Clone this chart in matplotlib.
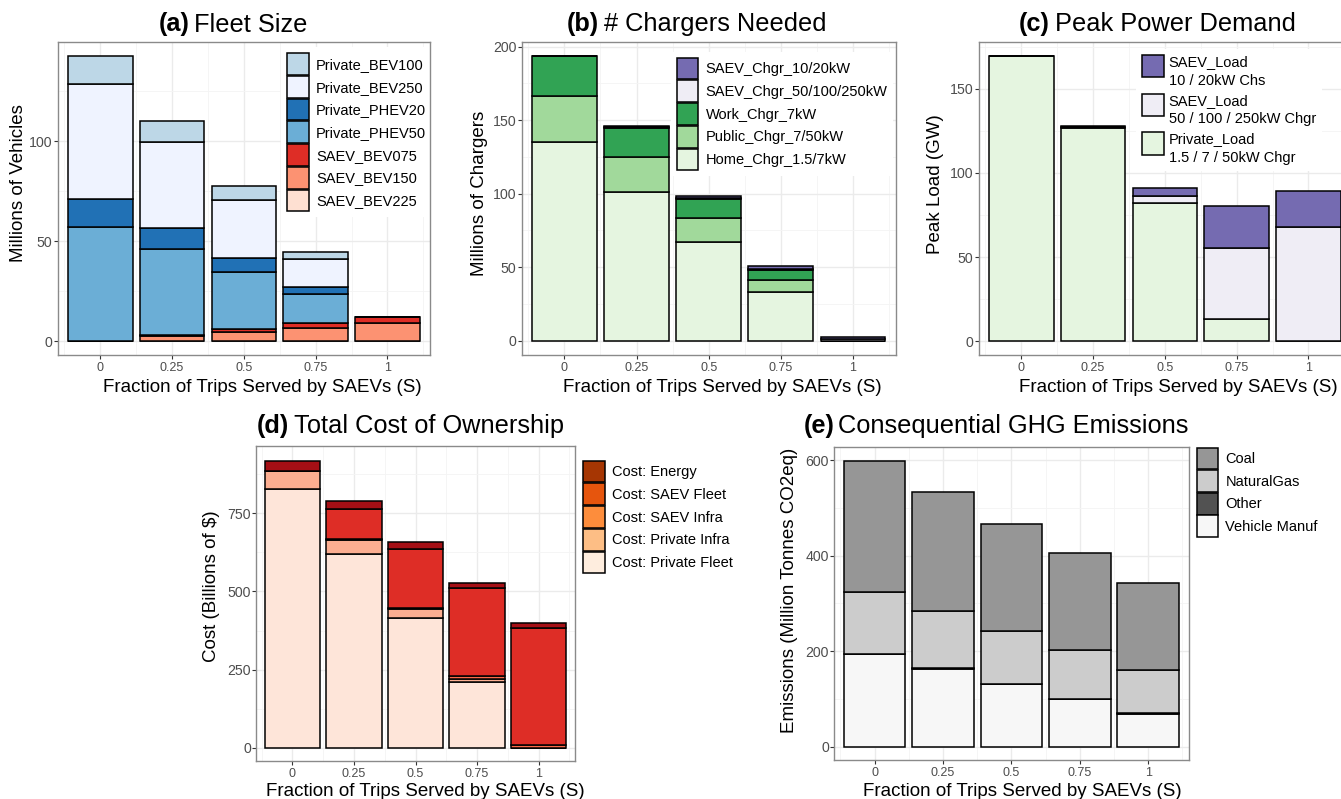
import matplotlib
matplotlib.use('Agg')
import matplotlib.pyplot as plt
from matplotlib.patches import Patch
import numpy as np

plt.rcParams['font.family'] = ['Liberation Sans', 'DejaVu Sans']

W, H = 1341, 799
fig = plt.figure(figsize=(W / 100, H / 100), dpi=100)

# ---------------- data ----------------
S = [0, 0.25, 0.5, 0.75, 1]
S_labels = ['0', '0.25', '0.5', '0.75', '1']

# (a) Fleet size (millions of vehicles), legend order (top of stack first)
fleet_cats = ['Private_BEV100', 'Private_BEV250', 'Private_PHEV20', 'Private_PHEV50',
              'SAEV_BEV075', 'SAEV_BEV150', 'SAEV_BEV225']
fleet_colors = ['#BDD7E7', '#EFF3FF', '#2171B5', '#6BAED6', '#DE2D26', '#FC9272', '#FEE0D2']
private_bev100 = [14.2, 10.7, 7.0, 3.5, 0]
private_bev250 = [57.3, 43.0, 28.8, 14.2, 0]
private_phev20 = [14.4, 10.5, 7.2, 3.7, 0]
private_phev50 = [56.8, 42.8, 28.5, 14.5, 0]
saev_bev075 = [0, 0.6, 1.5, 2.5, 3.2]
saev_bev150 = [0, 2.4, 4.3, 6.3, 8.8]
saev_bev225 = [0, 0, 0, 0, 0]
fleet_vals = [private_bev100, private_bev250, private_phev20, private_phev50,
              saev_bev075, saev_bev150, saev_bev225]

# (b) Chargers needed (millions)
chgr_cats = ['SAEV_Chgr_10/20kW', 'SAEV_Chgr_50/100/250kW', 'Work_Chgr_7kW',
             'Public_Chgr_7/50kW', 'Home_Chgr_1.5/7kW']
chgr_colors = ['#756BB1', '#EFEDF5', '#31A354', '#A1D99B', '#E5F5E0']
saev_chgr_10_20 = [0, 0.9, 1.2, 1.8, 1.4]
saev_chgr_50_250 = [0, 0.5, 0.8, 1.0, 0.9]
work_chgr = [27.2, 20.0, 13.2, 6.8, 0]
public_chgr = [31.8, 23.8, 15.9, 8.0, 0]
home_chgr = [134.9, 101.1, 67.3, 33.3, 0]
chgr_vals = [saev_chgr_10_20, saev_chgr_50_250, work_chgr, public_chgr, home_chgr]

# (c) Peak load (GW)
load_cats = ['SAEV_Load\n10 / 20kW Chs', 'SAEV_Load\n50 / 100 / 250kW Chgr',
             'Private_Load\n1.5 / 7 / 50kW Chgr']
load_colors = ['#756BB1', '#EFEDF5', '#E5F5E0']
saev_load_10_20 = [0, 0.7, 4.3, 24.7, 21.4]
saev_load_50_250 = [0, 0.4, 4.6, 42.1, 68.1]
private_load = [169.4, 126.9, 81.9, 13.3, 0]
load_vals = [saev_load_10_20, saev_load_50_250, private_load]

# (d) Total cost of ownership (billions of $)
cost_cats = ['Cost: Energy', 'Cost: SAEV Fleet', 'Cost: SAEV Infra',
             'Cost: Private Infra', 'Cost: Private Fleet']
cost_bar_colors = ['#A50F15', '#DE2D26', '#FB6A4A', '#FCAE91', '#FEE5D9']
cost_legend_colors = ['#A63603', '#E6550D', '#FD8D3C', '#FDBE85', '#FEEDDE']
cost_energy = [32, 26, 20.4, 16, 17.1]
cost_saev_fleet = [0, 97, 189.6, 283, 375]
cost_saev_infra = [0, 4, 4.5, 8, 8]
cost_private_infra = [60, 44, 29.5, 11, 0]
cost_private_fleet = [827, 620, 413.6, 209, 0]
cost_vals = [cost_energy, cost_saev_fleet, cost_saev_infra, cost_private_infra, cost_private_fleet]

# (e) GHG emissions (million tonnes CO2eq)
ghg_cats = ['Coal', 'NaturalGas', 'Other', 'Vehicle Manuf']
ghg_colors = ['#969696', '#CCCCCC', '#525252', '#F7F7F7']
ghg_coal = [274.2, 249, 225.3, 203.1, 183.5]
ghg_natgas = [128.7, 119.7, 109.2, 100.8, 90.3]
ghg_other = [1, 1, 1, 1, 1.5]
ghg_manuf = [194, 163.3, 131.2, 99.8, 68]
ghg_vals = [ghg_coal, ghg_natgas, ghg_other, ghg_manuf]


# ---------------- helpers ----------------
def px_axes(l, t, r, b):
    return fig.add_axes([l / W, 1 - b / H, (r - l) / W, (b - t) / H])


def style_axes(ax, ylim, yticks):
    xlim = (-0.148, 1.148)
    ax.set_xticks(S)
    ax.set_xticklabels(S_labels)
    ax.set_yticks(yticks)
    ax.set_yticklabels([str(v) for v in yticks])
    step = yticks[1] - yticks[0]
    minor_y = [v + step / 2 for v in yticks if v + step / 2 < ylim[1]]
    ax.set_yticks(minor_y, minor=True)
    ax.set_xticks([v + 0.125 for v in [-0.25] + S if xlim[0] < v + 0.125 < xlim[1]], minor=True)
    ax.set_xlim(*xlim)
    ax.set_ylim(*ylim)
    ax.grid(True, which='major', color='#EBEBEB', lw=1.0, zorder=0)
    ax.grid(True, which='minor', color='#F4F4F4', lw=0.6, zorder=0)
    ax.set_axisbelow(True)
    ax.tick_params(which='minor', length=0)
    ax.tick_params(which='major', direction='out', length=2.75, width=0.8,
                   color='#333333', labelcolor='#4D4D4D')
    ax.tick_params(axis='y', labelsize=10.2, pad=1)
    ax.tick_params(axis='x', labelsize=9, pad=2)
    for sp in ax.spines.values():
        sp.set_color('#8A8A8A')
        sp.set_linewidth(1.0)
        sp.set_zorder(6)


def stacked(ax, vals_top_first, colors):
    bottom = np.zeros(len(S))
    for vals, col in zip(vals_top_first[::-1], colors[::-1]):
        ax.bar(S, vals, width=0.225, bottom=bottom, color=col,
               edgecolor='black', linewidth=1.1, zorder=2)
        bottom = bottom + np.array(vals)


LFS = 10.5


def add_legend(ax, cats, colors, key_left, key_top, keyh=21.7, spacing=0.1,
               textpad=0.5, top_align=False, linesp=None):
    fs_px = LFS * 100 / 72
    hh = (keyh / fs_px - 0.245) / 0.65
    handles = [Patch(facecolor=c, edgecolor='black', linewidth=1.1) for c in colors]
    bp = 0.4
    pad_px = bp * fs_px
    leg = ax.legend(handles, cats, loc='upper left',
                    bbox_to_anchor=((key_left - pad_px) / W, 1 - (key_top - pad_px) / H),
                    bbox_transform=fig.transFigure, borderaxespad=0, borderpad=bp,
                    frameon=True, fancybox=False, framealpha=1, facecolor='white',
                    edgecolor='none', fontsize=LFS, handlelength=keyh / fs_px,
                    handleheight=hh, labelspacing=spacing, handletextpad=textpad)
    for t in leg.get_texts():
        t.set_color('black')
        if linesp:
            t.set_linespacing(linesp)
    if top_align:
        for col in leg._legend_handle_box.get_children():
            for row in col.get_children():
                row.align = 'top'
    leg.set_zorder(5)
    return leg


def title(x, y, bold, rest, gap=5, fs=18.3):
    r = fig.canvas.get_renderer()
    t = fig.text(x / W, 1 - y / H, bold, fontweight='bold', fontsize=fs,
                 ha='left', va='baseline')
    bb = t.get_window_extent(r)
    fig.text((bb.x1 + gap) / W, 1 - y / H, rest, fontsize=fs, ha='left', va='baseline')


def xlabel(cx, y):
    fig.text(cx / W, 1 - y / H, 'Fraction of Trips Served by SAEVs (S)', fontsize=13.5,
             ha='center', va='baseline')


def ylabel(cx, cy, s):
    fig.text(cx / W, 1 - cy / H, s, fontsize=13.5, rotation=90, ha='center', va='center')


# ---------------- (a) ----------------
axa = px_axes(57.7, 42.3, 430, 355.3)
style_axes(axa, (-7.15, 149.4), [0, 50, 100])
stacked(axa, fleet_vals, fleet_colors)
add_legend(axa, fleet_cats, fleet_colors, 287, 53.3, keyh=21.7, spacing=0.07)
title(158.3, 31.5, '(a)', 'Fleet Size')
xlabel(262, 391.5)
ylabel(19, 183, 'Millions of Vehicles')

# ---------------- (b) ----------------
axb = px_axes(521.7, 42.3, 895.7, 355.3)
style_axes(axb, (-9.9, 203), [0, 50, 100, 150, 200])
stacked(axb, chgr_vals, chgr_colors)
add_legend(axb, chgr_cats, chgr_colors, 676.7, 57.7, keyh=21.7, spacing=0.07)
title(566.7, 30.7, '(b)', '# Chargers Needed')
xlabel(722, 391.5)
ylabel(479, 193, 'Millions of Chargers')

# ---------------- (c) ----------------
axc = px_axes(978.7, 42.3, 1351, 355.3)
style_axes(axc, (-8.3, 177.5), [0, 50, 100, 150])
stacked(axc, load_vals, load_colors)
add_legend(axc, load_cats, load_colors, 1142, 55, keyh=22.3, spacing=0.42,
           textpad=0.3, top_align=True, linesp=1.42)
title(1019, 31, '(c)', 'Peak Power Demand')
xlabel(1178, 391.5)
ylabel(936, 184, 'Peak Load (GW)')

# ---------------- (d) ----------------
axd = px_axes(256, 446.5, 575, 761)
style_axes(axd, (-42.9, 964.3), [0, 250, 500, 750])
stacked(axd, cost_vals, cost_bar_colors)
add_legend(axd, cost_cats, cost_legend_colors, 583.3, 460.7, keyh=21.7, spacing=0.07)
title(257, 433.5, '(d)', 'Total Cost of Ownership')
xlabel(425.4, 796)
ylabel(211, 586, 'Cost (Billions of $)')

# ---------------- (e) ----------------
axe = px_axes(834, 446.7, 1188.7, 760)
style_axes(axe, (-27.9, 627.9), [0, 200, 400, 600])
stacked(axe, ghg_vals, ghg_colors)
add_legend(axe, ghg_cats, ghg_colors, 1196.5, 447.7, keyh=21.7, spacing=0.06)
title(803.7, 433, '(e)', 'Consequential GHG Emissions', gap=3)
xlabel(1022, 796)
ylabel(790, 590, 'Emissions (Million Tonnes CO2eq)')

fig.savefig('out.png', dpi=100, facecolor='white')
